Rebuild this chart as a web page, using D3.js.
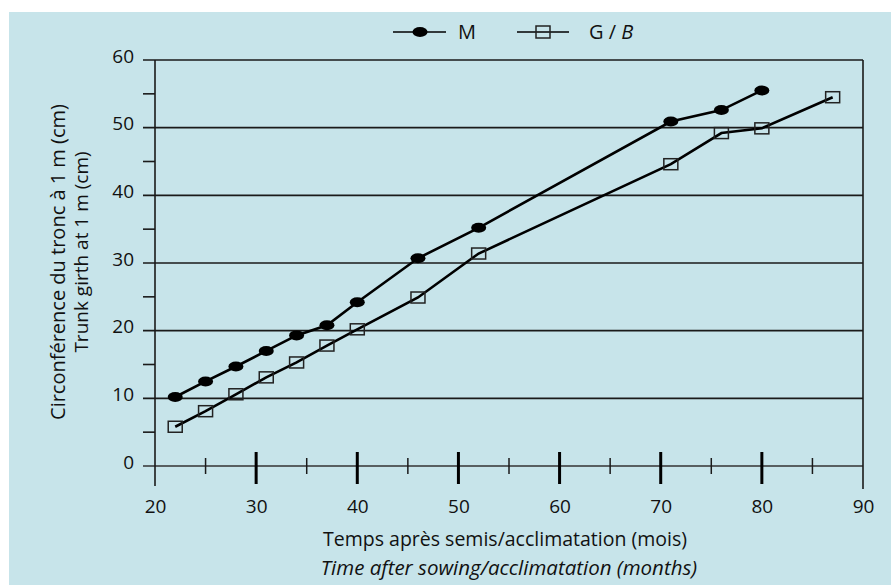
<!DOCTYPE html>
<html>
<head>
<meta charset="utf-8">
<script src="https://cdn.jsdelivr.net/npm/d3@7"></script>
<style>
  html, body { margin: 0; padding: 0; background: #ffffff; }
  svg { display: block; }
  text { font-family: "Open Sans", "Noto Sans", sans-serif; fill: #111; }
</style>
</head>
<body>
<svg id="chart" width="891" height="585"></svg>
<script>
// ---- data ----
const monthsM = [22, 25, 28, 31, 34, 37, 40, 46, 52, 71, 76, 80];
const girthM  = [10.2, 12.5, 14.7, 17.0, 19.3, 20.8, 24.2, 30.7, 35.2, 50.9, 52.6, 55.5];
const monthsG = [22, 25, 28, 31, 34, 37, 40, 46, 52, 71, 76, 80, 87];
const girthG  = [5.8, 8.1, 10.6, 13.1, 15.3, 17.8, 20.2, 24.9, 31.4, 44.6, 49.2, 49.9, 54.5];
const xTickLabels = [20, 30, 40, 50, 60, 70, 80, 90];
const xMajorTicks = [30, 40, 50, 60, 70, 80];
const xMinorTicks = [25, 35, 45, 55, 65, 75, 85];
const yTickLabels = [0, 10, 20, 30, 40, 50, 60];
const yMinorTicks = [5, 15, 25, 35, 45, 55];
const seriesNames = ["M", "G / "];
const yTitle1 = "Circonférence du tronc à 1 m (cm)";
const yTitle2 = "Trunk girth at 1 m (cm)";
const xTitle1 = "Temps après semis/acclimatation (mois)";
const xTitle2 = "Time after sowing/acclimatation (months)";

const svg = d3.select("#chart");
const bg = "#c7e4ea";
svg.append("rect").attr("x", 9).attr("y", 12).attr("width", 882).attr("height", 573).attr("fill", bg);

const x = d3.scaleLinear().domain([20, 90]).range([155, 863]);
const y = d3.scaleLinear().domain([0, 60]).range([466, 60]);
const lineCol = "#1a1a1a";

// horizontal gridlines (including zero line and top border)
svg.append("g").selectAll("line").data(yTickLabels).join("line")
  .attr("x1", 143).attr("x2", x(90))
  .attr("y1", d => y(d)).attr("y2", d => y(d))
  .attr("stroke", d => d === 0 ? "#333" : lineCol).attr("stroke-width", 1.6);

// y minor ticks
svg.append("g").selectAll("line").data(yMinorTicks).join("line")
  .attr("x1", 143).attr("x2", x(20))
  .attr("y1", d => y(d)).attr("y2", d => y(d))
  .attr("stroke", lineCol).attr("stroke-width", 1.6);

// y axis line and right border
svg.append("line").attr("x1", x(20)).attr("x2", x(20)).attr("y1", y(60)).attr("y2", y(0) + 20)
  .attr("stroke", lineCol).attr("stroke-width", 1.6);
svg.append("line").attr("x1", x(90)).attr("x2", x(90)).attr("y1", y(60)).attr("y2", y(0) + 23)
  .attr("stroke", lineCol).attr("stroke-width", 1.6);

// x major ticks
svg.append("g").selectAll("line").data(xMajorTicks).join("line")
  .attr("x1", d => x(d)).attr("x2", d => x(d))
  .attr("y1", y(0) - 14).attr("y2", y(0) + 18)
  .attr("stroke", "#000").attr("stroke-width", 3);
// x minor ticks
svg.append("g").selectAll("line").data(xMinorTicks).join("line")
  .attr("x1", d => x(d)).attr("x2", d => x(d))
  .attr("y1", y(0) - 8).attr("y2", y(0) + 8)
  .attr("stroke", lineCol).attr("stroke-width", 1.5);

// x tick labels via d3 axis
const xAxis = d3.axisBottom(x).tickValues(xTickLabels).tickSize(0).tickPadding(0).tickFormat(d3.format("d"));
const gx = svg.append("g").attr("transform", `translate(0, 506)`).call(xAxis);
gx.select(".domain").remove();
gx.selectAll("text").attr("font-size", 19).attr("font-family", "'Open Sans', sans-serif")
  .attr("fill", "#111").attr("dy", "0.35em");

// y tick labels via d3 axis
const yAxis = d3.axisLeft(y).tickValues(yTickLabels).tickSize(0).tickPadding(0).tickFormat(d3.format("d"));
const gy = svg.append("g").attr("transform", `translate(134, -4)`).call(yAxis);
gy.select(".domain").remove();
gy.selectAll("text").attr("font-size", 19).attr("font-family", "'Open Sans', sans-serif")
  .attr("fill", "#111");

// lines
const line = d3.line().x(d => x(d[0])).y(d => y(d[1]));
const dataM = monthsM.map((m, i) => [m, girthM[i]]);
const dataG = monthsG.map((m, i) => [m, girthG[i]]);
svg.append("path").datum(dataG).attr("d", line).attr("fill", "none")
  .attr("stroke", "#000").attr("stroke-width", 2.6);
svg.append("path").datum(dataM).attr("d", line).attr("fill", "none")
  .attr("stroke", "#000").attr("stroke-width", 2.6);

// markers
svg.append("g").selectAll("ellipse").data(dataM).join("ellipse")
  .attr("cx", d => x(d[0])).attr("cy", d => y(d[1]))
  .attr("rx", 7.5).attr("ry", 5).attr("fill", "#000");
svg.append("g").selectAll("rect").data(dataG).join("rect")
  .attr("x", d => x(d[0]) - 7).attr("y", d => y(d[1]) - 5.5)
  .attr("width", 14).attr("height", 11)
  .attr("fill", "none").attr("stroke", "#222").attr("stroke-width", 1.5);

// legend
const ly = 32;
svg.append("line").attr("x1", 393).attr("x2", 446).attr("y1", ly).attr("y2", ly).attr("stroke", "#000").attr("stroke-width", 1.5);
svg.append("ellipse").attr("cx", 420).attr("cy", ly).attr("rx", 7.5).attr("ry", 5).attr("fill", "#000");
svg.append("text").attr("x", 458).attr("y", ly).attr("dy", "0.35em").attr("font-size", 20).text(seriesNames[0]);
svg.append("line").attr("x1", 517).attr("x2", 569).attr("y1", ly).attr("y2", ly).attr("stroke", "#000").attr("stroke-width", 1.5);
svg.append("rect").attr("x", 536).attr("y", ly - 6).attr("width", 14).attr("height", 12)
  .attr("fill", "none").attr("stroke", "#222").attr("stroke-width", 1.5);
const lt = svg.append("text").attr("x", 589).attr("y", ly).attr("dy", "0.35em").attr("font-size", 20);
lt.append("tspan").text(seriesNames[1]);
lt.append("tspan").attr("font-style", "italic").text("B");

// axis titles
svg.append("text").attr("x", 505).attr("y", 546).attr("text-anchor", "middle").attr("font-size", 19.5).text(xTitle1);
svg.append("text").attr("x", 509).attr("y", 575).attr("text-anchor", "middle").attr("font-size", 20.5)
  .attr("font-style", "italic").text(xTitle2);
svg.append("text").attr("transform", "translate(65, 262) rotate(-90)").attr("text-anchor", "middle")
  .attr("font-size", 20).text(yTitle1);
svg.append("text").attr("transform", "translate(88, 252) rotate(-90)").attr("text-anchor", "middle")
  .attr("font-size", 19).text(yTitle2);
</script>
</body>
</html>
